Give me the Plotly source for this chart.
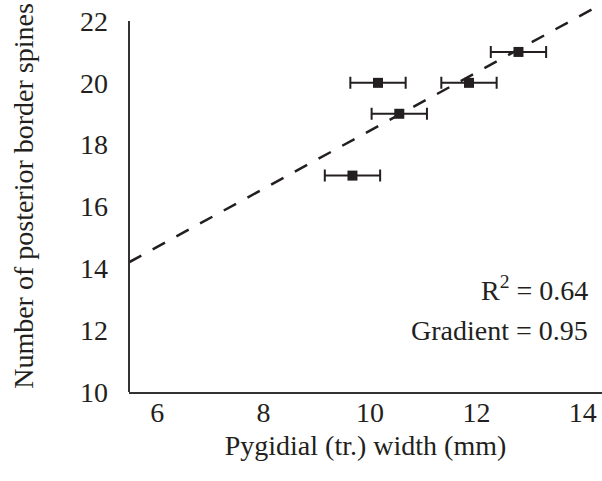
import numpy as np
import plotly.graph_objects as go

# Data
width_mm = [9.67, 10.15, 10.55, 11.86, 12.79]
spines = [17, 20, 19, 20, 21]
width_err = [0.52, 0.52, 0.52, 0.52, 0.52]

x_ticks = [6, 8, 10, 12, 14]
y_ticks = [10, 12, 14, 16, 18, 20, 22]
r2_text = "R<sup>2</sup> = 0.64"
grad_text = "Gradient = 0.95"

x_range = [5.47, 14.36]
y_range = [10, 22.68]

INK = "#231f20"
FONT = "Liberation Serif, Times New Roman, serif"
FS = 28

slope, intercept = np.polyfit(width_mm, spines, 1)
line_x = np.array(x_range)
line_y = slope * line_x + intercept

fig = go.Figure()
fig.add_trace(go.Scatter(
    x=line_x, y=line_y, mode="lines",
    line=dict(color=INK, width=2.5, dash="14px,13px"),
    hoverinfo="skip", showlegend=False, cliponaxis=True,
))
fig.add_trace(go.Scatter(
    x=width_mm, y=spines, mode="markers",
    marker=dict(symbol="square", size=10, color=INK),
    error_x=dict(type="data", array=width_err, visible=True,
                 color=INK, thickness=2, width=6),
    showlegend=False,
))

fig.add_shape(type="line", xref="paper", x0=0, x1=0, yref="y",
              y0=y_ticks[0], y1=y_ticks[-1],
              line=dict(color="#333333", width=2))

fig.add_annotation(text=r2_text, xref="paper", x=0.975, yref="y", y=13.36,
                   xanchor="right", yanchor="middle", showarrow=False,
                   font=dict(family=FONT, size=FS, color=INK))
fig.add_annotation(text=grad_text, xref="paper", x=0.975, yref="y", y=12.0,
                   xanchor="right", yanchor="middle", showarrow=False,
                   font=dict(family=FONT, size=FS, color=INK))

fig.update_layout(
    width=602, height=481,
    margin=dict(l=129, r=0, t=0, b=89, autoexpand=False),
    paper_bgcolor="white", plot_bgcolor="white",
    font=dict(family=FONT, size=FS, color=INK),
    xaxis=dict(range=x_range, tickvals=x_ticks, showgrid=False, zeroline=False,
               showline=True, linecolor="#333333", linewidth=2, ticks="",
               ticklabelstandoff=-6, automargin=False,
               tickfont=dict(size=FS),
               title=dict(text="Pygidial (tr.) width (mm)", standoff=9,
                          font=dict(size=FS))),
    yaxis=dict(range=y_range, tickvals=y_ticks, showgrid=False, zeroline=False,
               showline=False, ticks="", ticklabelstandoff=20, automargin=False,
               tickfont=dict(size=FS),
               title=dict(text="Number of posterior border spines", standoff=38,
                          font=dict(size=FS))),
)

fig.write_html("out.html",
               config={"displayModeBar": False},
               post_script="document.body.style.margin='0';document.body.style.overflow='hidden';")
